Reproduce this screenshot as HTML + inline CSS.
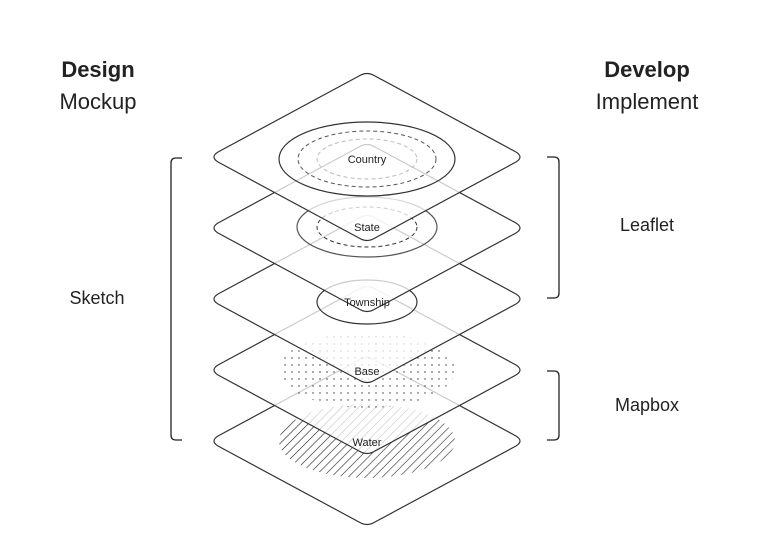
<!DOCTYPE html>
<html><head><meta charset="utf-8"><style>
html,body{margin:0;padding:0;background:#fff;}
svg{display:block;}
text{font-family:"Liberation Sans","DejaVu Sans",sans-serif;fill:#222;}
</style></head><body>
<svg width="765" height="558" viewBox="0 0 765 558" xmlns="http://www.w3.org/2000/svg">
<defs>
<pattern id="dots" width="7" height="7" patternUnits="userSpaceOnUse">
<circle cx="2" cy="2" r="0.7" fill="#333"/>
</pattern>
<pattern id="hatch" width="6" height="6" patternUnits="userSpaceOnUse" patternTransform="rotate(45)">
<line x1="0" y1="0" x2="0" y2="6" stroke="#222" stroke-width="1.2"/>
</pattern>
<path id="dia" d="M-8,-81 Q0,-86 8,-81 L149,-5 Q157,0 149,5 L8,81 Q0,86 -8,81 L-149,5 Q-157,0 -149,-5 Z"/>
</defs>

<g transform="translate(367,441)">
<use href="#dia" fill="#fff" stroke="#333" stroke-width="1.2"/>
<ellipse cx="0" cy="0" rx="88" ry="37" fill="url(#hatch)"/>
</g>
<g transform="translate(367,370)">
<use href="#dia" fill="#fff" fill-opacity="0.75" stroke="#333" stroke-width="1.2"/>
<ellipse cx="0" cy="0" rx="88" ry="38" fill="url(#dots)"/>
</g>
<text x="367" y="446" font-size="11" text-anchor="middle">Water</text>
<g transform="translate(367,299)">
<use href="#dia" fill="#fff" fill-opacity="0.75" stroke="#333" stroke-width="1.2"/>
<ellipse cx="0" cy="3" rx="50" ry="22" fill="none" stroke="#333" stroke-width="1.2"/>
</g>
<text x="367" y="375" font-size="11" text-anchor="middle">Base</text>
<g transform="translate(367,228)">
<use href="#dia" fill="#fff" fill-opacity="0.75" stroke="#333" stroke-width="1.2"/>
<ellipse cx="0" cy="-1" rx="70" ry="30" fill="none" stroke="#555" stroke-width="1.2"/>
<ellipse cx="0" cy="-1" rx="50" ry="20" fill="none" stroke="#333" stroke-width="1" stroke-dasharray="4,3"/>
</g>
<text x="367" y="306" font-size="11" text-anchor="middle">Township</text>
<g transform="translate(367,157)">
<use href="#dia" fill="#fff" fill-opacity="0.75" stroke="#333" stroke-width="1.2"/>
<ellipse cx="0" cy="2" rx="88" ry="37" fill="none" stroke="#333" stroke-width="1.2"/>
<ellipse cx="0" cy="2" rx="69" ry="28" fill="none" stroke="#555" stroke-width="1" stroke-dasharray="4,3"/>
<ellipse cx="0" cy="2" rx="50" ry="20" fill="none" stroke="#bbb" stroke-width="1" stroke-dasharray="4,3"/>
</g>
<text x="367" y="231" font-size="11" text-anchor="middle">State</text>
<text x="367" y="163" font-size="11" text-anchor="middle">Country</text>

<path d="M182,158 L176,158 Q171,158 171,163 L171,435 Q171,440 176,440 L182,440" fill="none" stroke="#222" stroke-width="1.3"/>
<path d="M547,157 L554,157 Q559,157 559,162 L559,293 Q559,298 554,298 L547,298" fill="none" stroke="#222" stroke-width="1.3"/>
<path d="M547,371 L554,371 Q559,371 559,376 L559,435 Q559,440 554,440 L547,440" fill="none" stroke="#222" stroke-width="1.3"/>

<text x="98" y="77" font-size="22" font-weight="bold" text-anchor="middle">Design</text>
<text x="98" y="109" font-size="22" text-anchor="middle">Mockup</text>
<text x="647" y="77" font-size="22" font-weight="bold" text-anchor="middle">Develop</text>
<text x="647" y="109" font-size="22" text-anchor="middle">Implement</text>
<text x="97" y="304" font-size="18" text-anchor="middle">Sketch</text>
<text x="647" y="231" font-size="18" text-anchor="middle">Leaflet</text>
<text x="647" y="411" font-size="18" text-anchor="middle">Mapbox</text>
</svg>
</body></html>
